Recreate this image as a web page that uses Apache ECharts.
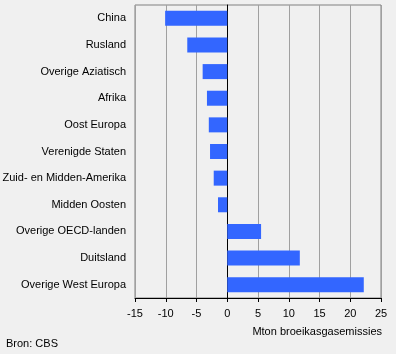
<!DOCTYPE html>
<html>
<head>
<meta charset="utf-8">
<script src="https://cdn.jsdelivr.net/npm/echarts@6/dist/echarts.min.js"></script>
<style>
  html, body { margin: 0; padding: 0; background: #f0f0f0; }
  #chart { width: 396px; height: 354px; }
</style>
</head>
<body>
<div id="chart"></div>
<script>
// categories, top to bottom
const regions = [
  'China', 'Rusland', 'Overige Aziatisch', 'Afrika', 'Oost Europa',
  'Verenigde Staten', 'Zuid- en Midden-Amerika', 'Midden Oosten',
  'Overige OECD-landen', 'Duitsland', 'Overige West Europa'
];
// Mton broeikasgasemissies
const emissions = [-10.1, -6.5, -4.0, -3.3, -3.0, -2.8, -2.2, -1.5, 5.5, 11.8, 22.2];

const xMin = -15;
const xMax = 25;
const xStep = 5;

const font = 'Liberation Sans, Arial, sans-serif';

const chart = echarts.init(document.getElementById('chart'));

chart.setOption({
  backgroundColor: '#f0f0f0',
  animation: false,
  title: [
    {
      text: 'Mton broeikasgasemissies',
      right: 14,
      top: 326,
      padding: 0,
      textStyle: { fontFamily: font, fontSize: 11, fontWeight: 'normal', color: '#000' }
    },
    {
      text: 'Bron: CBS',
      left: 6,
      top: 338,
      padding: 0,
      textStyle: { fontFamily: font, fontSize: 11, fontWeight: 'normal', color: '#000' }
    }
  ],
  grid: {
    left: 135,
    right: 15,
    top: 5,
    bottom: 56,
    containLabel: false,
    outerBoundsMode: 'none',
    show: true,
    borderColor: '#808080',
    borderWidth: 1,
    backgroundColor: 'transparent'
  },
  xAxis: {
    type: 'value',
    min: xMin,
    max: xMax,
    interval: xStep,
    axisLine: { show: true, onZero: false, lineStyle: { color: '#000', width: 1 } },
    axisTick: { show: true, length: 4, lineStyle: { color: '#000' } },
    axisLabel: { color: '#000', fontFamily: font, fontSize: 11, margin: 10 },
    splitLine: { show: true, lineStyle: { color: '#a0a0a0', width: 1 } }
  },
  yAxis: {
    type: 'category',
    data: regions,
    inverse: true,
    axisLine: { show: true, onZero: true, lineStyle: { color: '#000', width: 1 } },
    axisTick: { show: false },
    axisLabel: { color: '#000', fontFamily: font, fontSize: 11, margin: 9 },
    splitLine: { show: false }
  },
  series: [
    {
      type: 'bar',
      data: emissions,
      barWidth: 15,
      itemStyle: { color: '#3366ff' }
    }
  ]
});
</script>
</body>
</html>
